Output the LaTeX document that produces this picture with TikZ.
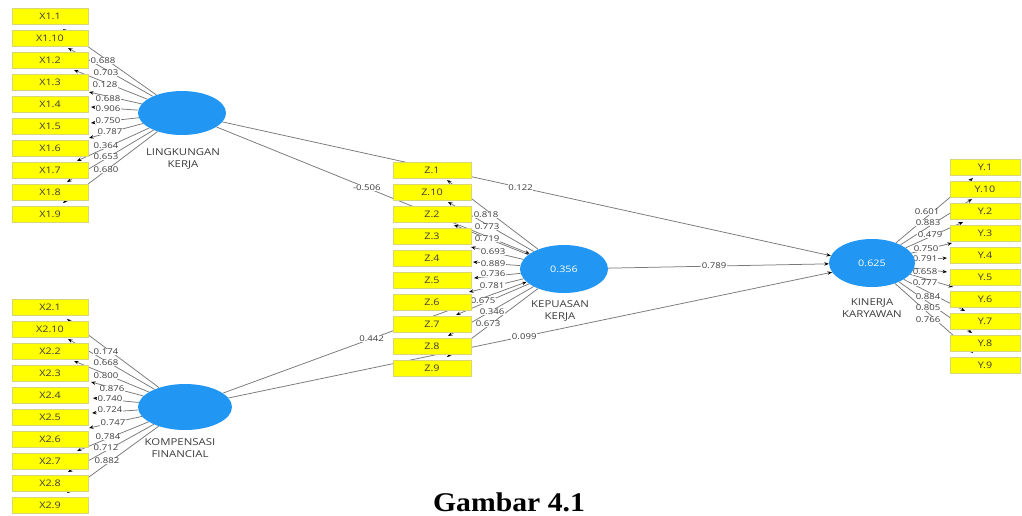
\documentclass[tikz,border=0pt]{standalone}
\usepackage{fontspec}
\usetikzlibrary{shapes.geometric,arrows.meta}
\newfontfamily\plsfont[FakeStretch=1.2]{Open Sans}
\newfontfamily\capfont[FakeStretch=1.1]{Liberation Serif}
\definecolor{plsyellow}{RGB}{255,255,0}
\definecolor{plsedge}{RGB}{215,215,120}
\definecolor{plsblue}{RGB}{33,150,243}
\definecolor{plsline}{RGB}{120,120,120}
\definecolor{plstext}{RGB}{60,60,60}
\pgfdeclarelayer{bg}
\pgfsetlayers{bg,main}
\begin{document}
\begin{tikzpicture}[x=1pt,y=-1pt,
  ind/.style={draw=plsedge, line width=0.5pt, fill=plsyellow, minimum width=76pt, minimum height=16pt,
    inner sep=0pt, font=\plsfont\fontsize{9}{10}\selectfont, text=plstext},
  lat/.style={ellipse, fill=plsblue, inner sep=0pt, text=white, font=\plsfont\fontsize{9}{10}\selectfont},
  latlab/.style={font=\plsfont\fontsize{9.5}{12}\selectfont, text=plstext, align=center},
  coef/.style={fill=white, inner sep=0.5pt, font=\plsfont\fontsize{8}{9}\selectfont, text=plstext},
  link/.style={draw=plsline, line width=0.75pt, -{Stealth[length=4.5pt,width=3.5pt,black]}},
]
\useasboundingbox (0,0) rectangle (1022,515);
\begin{pgfonlayer}{bg}
\fill[white] (0,0) rectangle (1022,515);
\end{pgfonlayer}

% indicators
\foreach \n [count=\i from 0] in {1,10,2,3,4,5,6,7,8,9} {
  \node[ind] (x1-\n) at (50,16.5+22*\i) {X1.\n};
  \node[ind] (x2-\n) at (50,307+22*\i) {X2.\n};
  \node[ind, minimum width=78pt] (z-\n) at (432,170+22*\i) {Z.\n};
  \node[ind, minimum width=70pt] (y-\n) at (985,167+22*\i) {Y.\n};
}

% latent variables
\node[lat, minimum width=88pt, minimum height=44pt] (lk) at (182,113) {};
\node[lat, minimum width=94pt, minimum height=46pt] (kf) at (185,407) {};
\node[lat, minimum width=88pt, minimum height=48pt] (kep) at (564,269) {0.356};
\node[lat, minimum width=86pt, minimum height=48pt] (kin) at (872,263) {0.625};

\node[latlab] (lkl) at (183,159) {LINGKUNGAN\\KERJA};
\node[latlab] (kfl) at (180,448) {KOMPENSASI\\FINANCIAL};
\node[latlab] (kepl) at (560,311) {KEPUASAN\\KERJA};
\node[latlab] (kinl) at (872,308) {KINERJA\\KARYAWAN};

% arrow tip coordinates
\foreach \x/\y [count=\k] in {63/29,68/48,74/70,89/92,91/107,91/123,89/138,77/161,67/182,63/203}
  \coordinate (ta\k) at (\x,\y);
\foreach \x/\y [count=\k] in {67/319,68/339,74/361,91/382,93/398,92/413,89/428,77/451,68/472,67/493}
  \coordinate (tb\k) at (\x,\y);
\foreach \x/\y [count=\k] in {447/180,448/202,454/225,471/247,473/262,474/278,469/292,456/315,448/336,447/357}
  \coordinate (tc\k) at (\x,\y);
\foreach \x/\y [count=\k] in {973/178,972/199,963/222,952/243,947/258,947/272,953/287,965/311,972/333,973/353}
  \coordinate (td\k) at (\x,\y);

\begin{pgfonlayer}{bg}
\foreach \k in {1,...,10} {
  \draw[link] (lk) -- (ta\k);
  \draw[link] (kf) -- (tb\k);
  \draw[link] (kep) -- (tc\k);
  \draw[link] (kin) -- (td\k);
}
\draw[link] (lk) -- (kep.156) node[coef, pos=0.48] (p1) {-0.506};
\draw[link] (lk) -- (kin.170) node[coef, pos=0.49] (p2) {0.122};
\draw[link] (kf) -- (kep.199) node[coef, pos=0.49] (p3) {0.442};
\draw[link] (kf) -- (kin.193) node[coef, pos=0.49] (p4) {0.099};
\draw[link] (kep) -- (kin) node[coef, pos=0.48] (p5) {0.789};

\foreach \v/\x/\y [count=\k] in {0.688/103/61,0.703/106/73,0.128/105/85,0.688/108/99,0.906/108/109,0.750/108/121,0.787/110/132,0.364/106/146,0.653/106/157,0.680/106/170}
  \node[coef] (la\k) at (\x,\y) {\v};
\foreach \v/\x/\y [count=\k] in {0.174/106/352,0.668/106/363,0.800/106/376,0.876/112/389,0.740/110/399,0.724/110/410,0.747/113/423,0.784/108/437,0.712/106/448,0.882/107/461}
  \node[coef] (lb\k) at (\x,\y) {\v};
\foreach \v/\x/\y [count=\k] in {0.818/486/215,0.773/487/227,0.719/487/239,0.693/493/252,0.889/493/264,0.736/493/274,0.781/492/286,0.675/483/301,0.346/492/312,0.673/488/324}
  \node[coef] (lc\k) at (\x,\y) {\v};
\foreach \v/\x/\y [count=\k] in {0.601/927/212,0.883/928/223,0.479/930/235,0.750/926/249,0.791/925/259,0.658/925/272,0.777/925/283,0.884/928/297,0.805/928/308,0.766/928/320}
  \node[coef] (ld\k) at (\x,\y) {\v};
\end{pgfonlayer}

\node[font=\capfont\bfseries\fontsize{27}{30}\selectfont, anchor=base] (cap) at (509,511) {Gambar 4.1};
\end{tikzpicture}
\end{document}
